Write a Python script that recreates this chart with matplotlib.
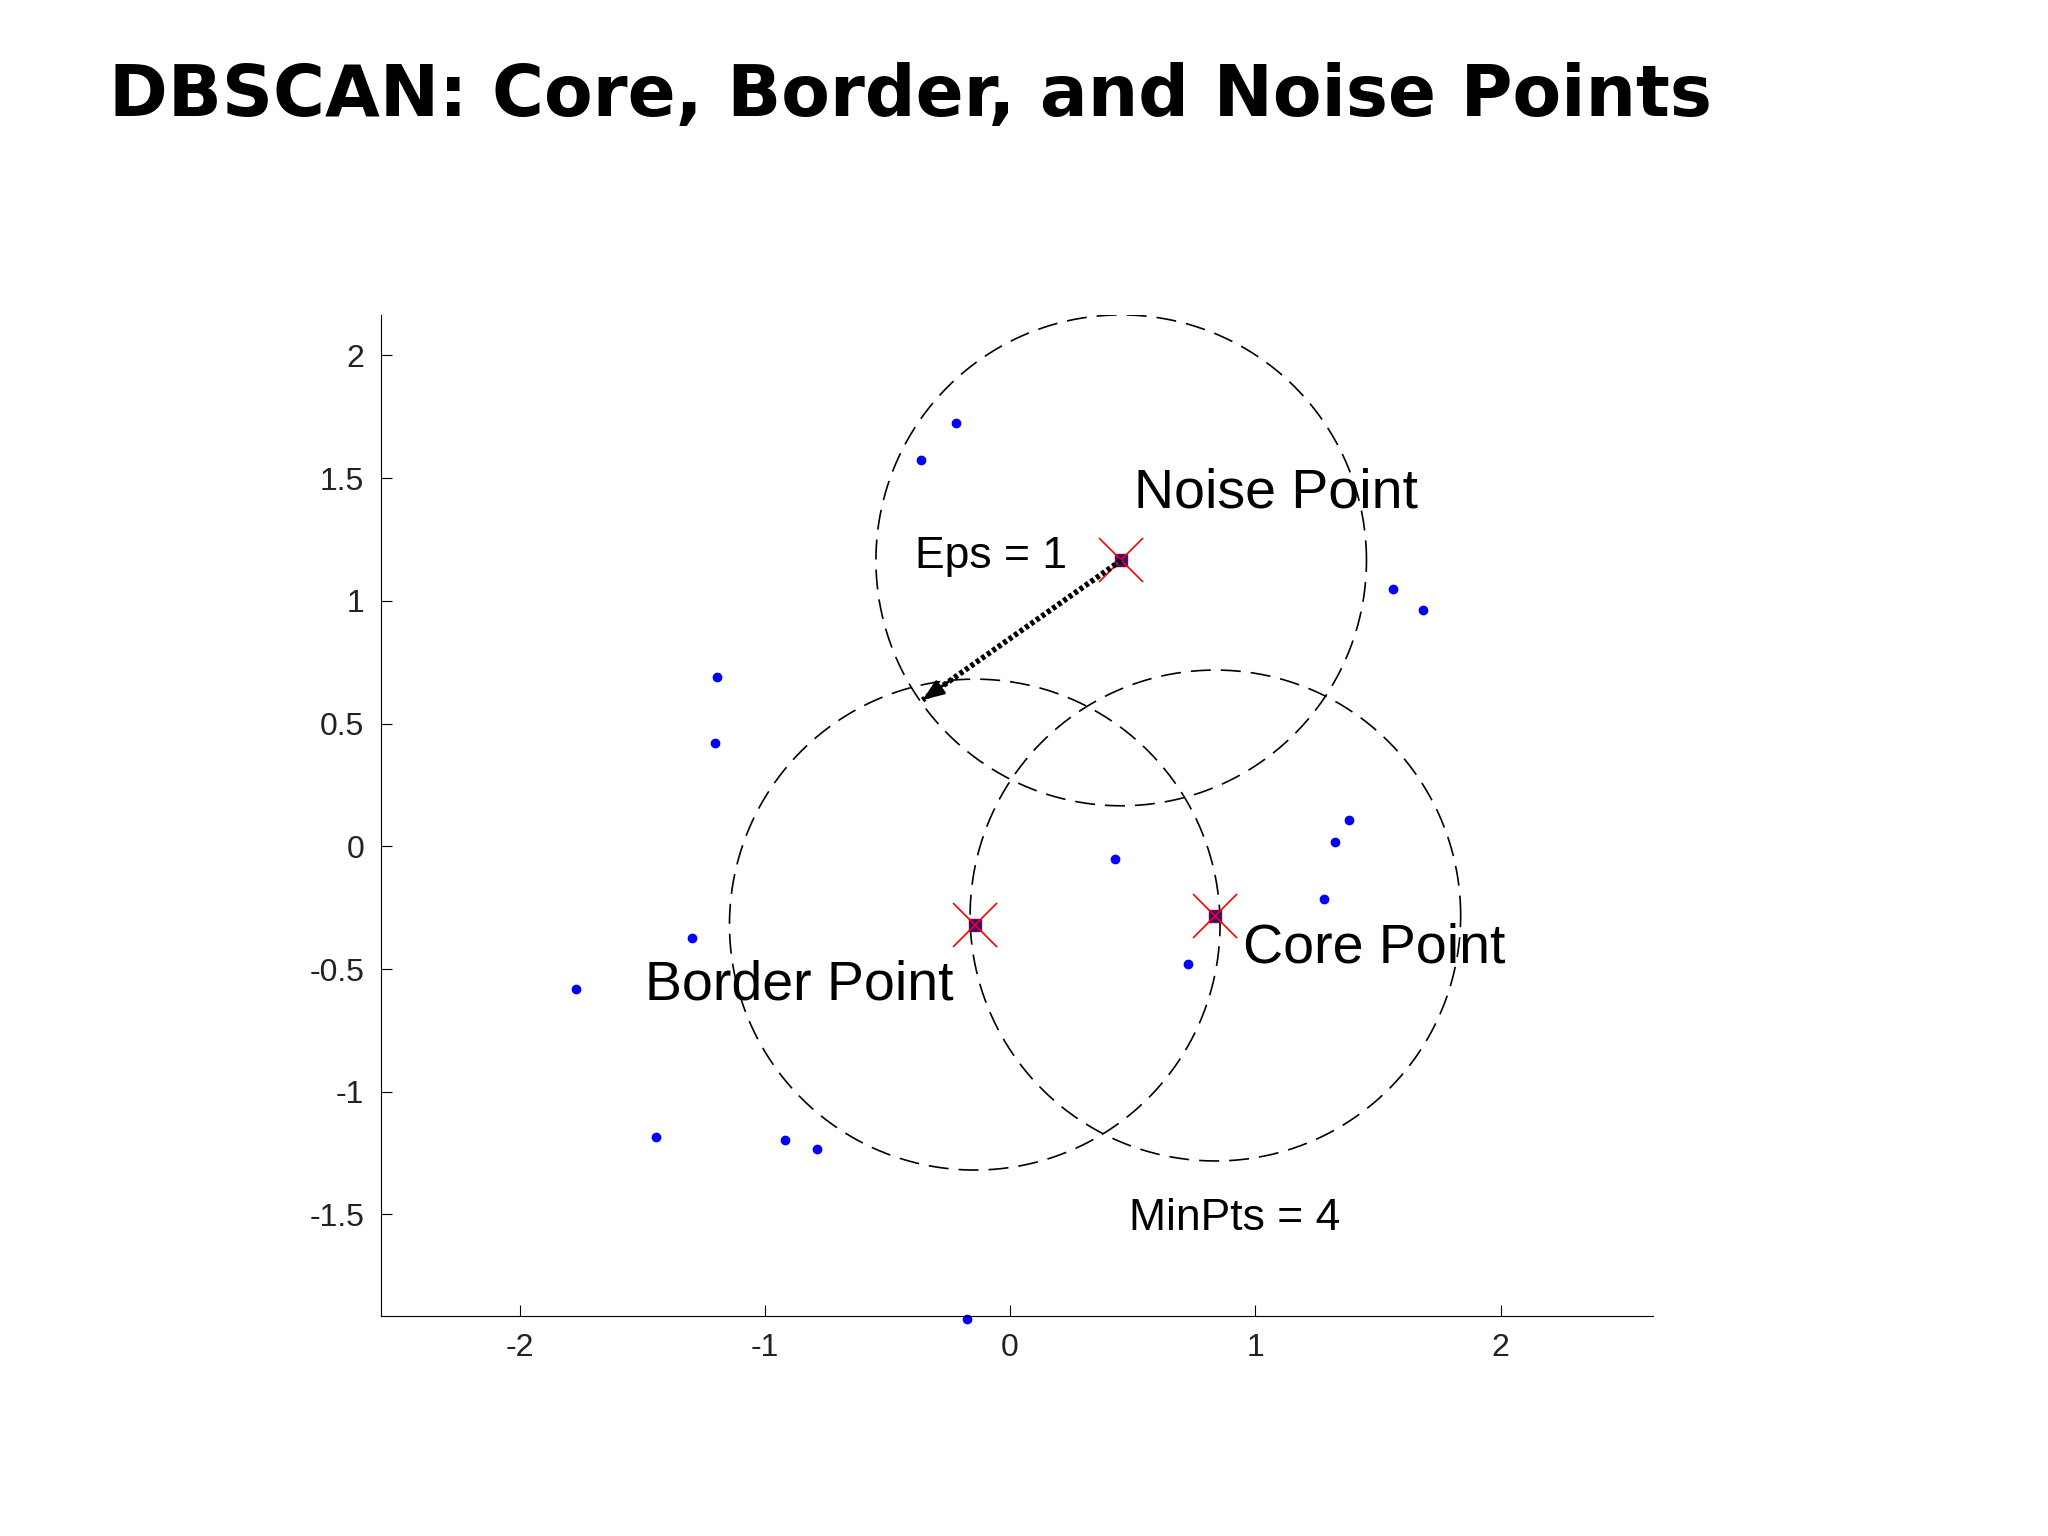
import matplotlib
matplotlib.use("Agg")
import matplotlib.pyplot as plt
import numpy as np

pts_x = [-0.363, -0.219, 0.453, 1.563, 1.685, -1.195, -1.205, 1.381, 1.323, 0.427,
         1.28, 0.837, -0.144, -1.296, 0.725, -1.771, -1.445, -0.917, -0.789, -0.176]
pts_y = [1.574, 1.723, 1.165, 1.048, 0.963, 0.691, 0.420, 0.106, 0.016, -0.053,
         -0.213, -0.282, -0.319, -0.372, -0.479, -0.58, -1.186, -1.197, -1.234, -1.926]
special_x = [0.453, 0.837, -0.144]
special_y = [1.165, -0.282, -0.319]
eps = 1.0
arrow_end = (-0.357, 0.596)
xticks = [-2, -1, 0, 1, 2]
yticks = [-1.5, -1, -0.5, 0, 0.5, 1, 1.5, 2]

fig = plt.figure(figsize=(20.48, 15.36), dpi=100)
fig.text(0.053, 0.937, "DBSCAN: Core, Border, and Noise Points", fontsize=51,
         fontweight="bold", family="DejaVu Sans", va="center", ha="left")
ax = fig.add_axes([0.186, 0.143, 0.621, 0.652])
ax.set_xlim(-2.565, 2.62)
ax.set_ylim(-1.915, 2.165)
for s in ["top", "right"]:
    ax.spines[s].set_visible(False)
ax.set_xticks(xticks)
ax.set_xticklabels([str(t) for t in xticks])
ax.set_yticks(yticks)
ax.set_yticklabels(["-1.5", "-1", "-0.5", "0", "0.5", "1", "1.5", "2"])
ax.tick_params(direction="in", length=8, labelsize=23, pad=12, labelcolor="#222222")
for lab in ax.get_xticklabels() + ax.get_yticklabels():
    lab.set_family("Liberation Sans")

th = np.linspace(0, 2 * np.pi, 400)
for cx, cy in zip(special_x, special_y):
    ax.plot(cx + eps * np.cos(th), cy + eps * np.sin(th), color="black",
            lw=1.2, dashes=(12, 6))

ax.plot(pts_x, pts_y, "o", color="blue", ms=6, clip_on=False)
ax.plot(special_x, special_y, "s", color="#2a0f8a", ms=8, mec="#800040")
ax.plot(special_x, special_y, "x", color="red", ms=32, mew=1.2)

ax.plot([special_x[0], arrow_end[0]], [special_y[0], arrow_end[1]], color="black",
        lw=4, linestyle=(0, (0.7, 0.5)))
ax.annotate("", xy=arrow_end,
            xytext=(arrow_end[0] + 0.12, arrow_end[1] + 0.085),
            arrowprops=dict(arrowstyle="-|>,head_length=1.3,head_width=0.5",
                            color="black", lw=2, shrinkA=0, shrinkB=0))

tf = "Liberation Sans"
ax.text(0.507, 1.436, "Noise Point", fontsize=40, family=tf, va="center")
ax.text(-0.389, 1.18, "Eps = 1", fontsize=32, family=tf, va="center")
ax.text(0.949, -0.415, "Core Point", fontsize=40, family=tf, va="center")
ax.text(-1.488, -0.569, "Border Point", fontsize=40, family=tf, va="center")
ax.text(0.485, -1.516, "MinPts = 4", fontsize=32, family=tf, va="center")

fig.savefig("out.png", dpi=100)
